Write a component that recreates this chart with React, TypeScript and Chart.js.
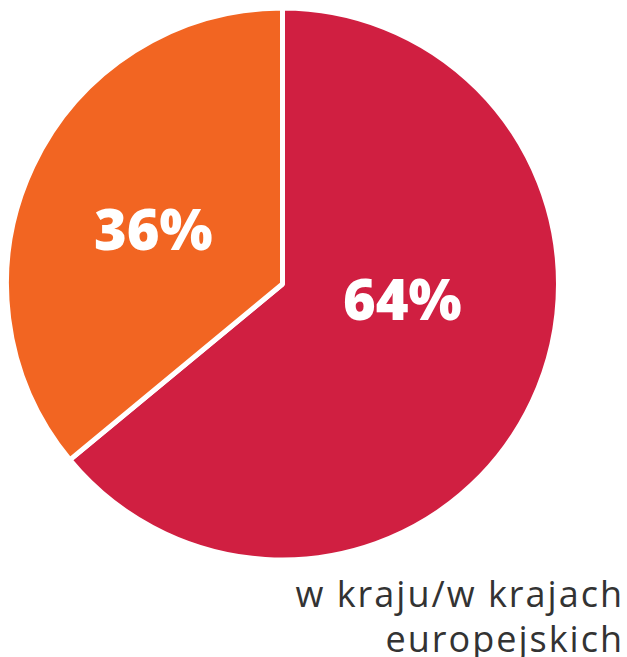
import React, { useEffect, useRef } from "react";
import { Chart, registerables } from "chart.js";

Chart.register(...registerables);

const categories = ["w kraju/w krajach europejskich", "poza Europą"];
const values = [64, 36];
const valueLabels = ["64%", "36%"];
const colors = ["#D01F41", "#F26522"];

const labelPlugin = {
  id: "sliceLabels",
  afterDatasetsDraw(chart: any) {
    const meta = chart.getDatasetMeta(0);
    const ctx = chart.ctx;
    const offsets = [
      [0.434, 0.072],
      [-0.468, -0.18],
    ];
    ctx.save();
    ctx.fillStyle = "#ffffff";
    ctx.font = "800 56px 'Open Sans'";
    ctx.textAlign = "center";
    ctx.textBaseline = "middle";
    meta.data.forEach((arc: any, i: number) => {
      const r = arc.outerRadius;
      const x = arc.x + offsets[i][0] * r;
      const y = arc.y + offsets[i][1] * r;
      ctx.fillText(valueLabels[i], x, y);
    });
    ctx.restore();
  },
};

export default function App() {
  const ref = useRef<HTMLCanvasElement>(null);
  useEffect(() => {
    if (!ref.current) return;
    const chart = new Chart(ref.current, {
      type: "pie",
      data: {
        labels: categories,
        datasets: [
          {
            data: values,
            backgroundColor: colors,
            borderColor: "#ffffff",
            borderWidth: 5,
            radius: 276,
          } as any,
        ],
      },
      options: {
        responsive: false,
        animation: false,
        layout: { padding: 0 },
        plugins: {
          legend: { display: false },
          tooltip: { enabled: false },
        },
      },
      plugins: [labelPlugin],
    });
    return () => chart.destroy();
  }, []);

  return (
    <div
      style={{
        position: "fixed",
        left: 0,
        top: 0,
        width: 627,
        height: 657,
        background: "#ffffff",
        overflow: "hidden",
      }}
    >
      <canvas
        ref={ref}
        width={565}
        height={568}
        style={{ position: "absolute", left: 0, top: 0, width: 565, height: 568 }}
      />
      <div
        style={{
          position: "absolute",
          right: 3,
          top: 571,
          textAlign: "right",
          fontFamily: "'Open Sans', sans-serif",
          fontSize: 36,
          lineHeight: "45px",
          letterSpacing: "2px",
          color: "#333333",
          whiteSpace: "nowrap",
        }}
      >
        w kraju/w krajach
        <br />
        europejskich
      </div>
    </div>
  );
}
